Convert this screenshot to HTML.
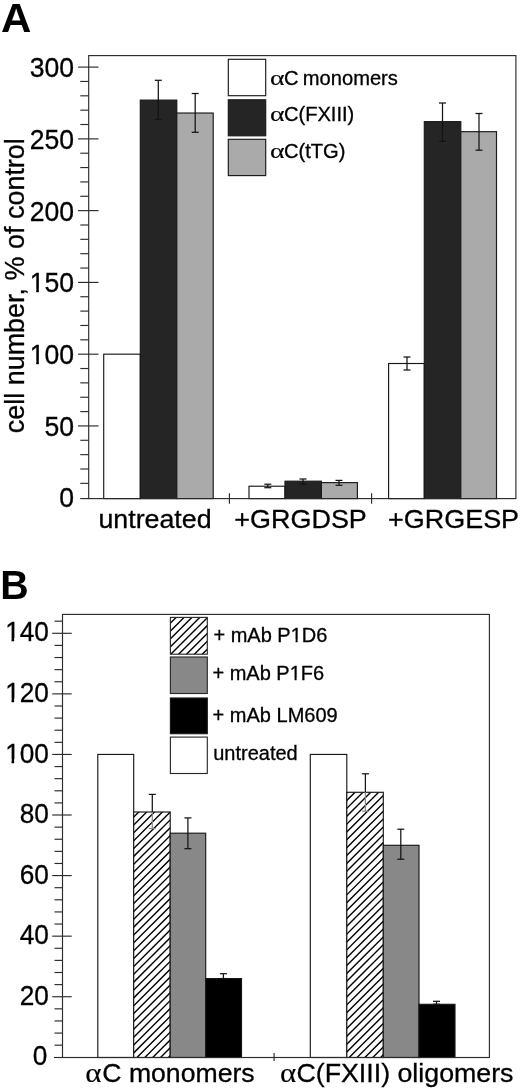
<!DOCTYPE html>
<html lang="en"><head><meta charset="utf-8"><title>Figure</title>
<style>
html,body{margin:0;padding:0;background:#fff;}
body{width:520px;height:1090px;overflow:hidden;}
svg{display:block;font-family:"Liberation Sans",sans-serif;fill:#000;}
</style></head><body>
<svg width="520" height="1090" viewBox="0 0 520 1090">
<rect width="520" height="1090" fill="#fff" stroke="none"/>
<defs><clipPath id="c1"><rect x="-47.05" y="-26" width="51.05" height="22.6"/><rect x="-38.43" y="-3.6" width="2.65" height="5"/><rect x="-30.03" y="-26" width="34.03" height="30"/></clipPath></defs>
<text transform="translate(0.9,31.9) scale(1.05,1)" font-size="40" text-anchor="start" font-weight="bold" stroke="#000" stroke-width="0" >A</text>
<rect x="103.7" y="354.17" width="36.6" height="144.43" fill="#fff" stroke="#181818" stroke-width="1.15"/>
<rect x="140.3" y="100.11" width="36.5" height="398.49" fill="#252525" stroke="#181818" stroke-width="1.15"/>
<rect x="176.8" y="113.03" width="36.4" height="385.57" fill="#aaaaaa" stroke="#181818" stroke-width="1.15"/>
<rect x="249" y="486.22" width="36" height="12.38" fill="#fff" stroke="#181818" stroke-width="1.15"/>
<rect x="285" y="481.19" width="36.4" height="17.41" fill="#252525" stroke="#181818" stroke-width="1.15"/>
<rect x="321.4" y="482.63" width="36" height="15.97" fill="#aaaaaa" stroke="#181818" stroke-width="1.15"/>
<rect x="388.6" y="363.5" width="35.7" height="135.1" fill="#fff" stroke="#181818" stroke-width="1.15"/>
<rect x="424.3" y="121.64" width="36.5" height="376.96" fill="#252525" stroke="#181818" stroke-width="1.15"/>
<rect x="460.8" y="131.69" width="35.7" height="366.91" fill="#aaaaaa" stroke="#181818" stroke-width="1.15"/>
<rect x="88.7" y="55.6" width="427.2" height="443" fill="none" stroke="#2b2b2b" stroke-width="1.15"/>
<line x1="80.2" y1="498.6" x2="88.7" y2="498.6" stroke="#2b2b2b" stroke-width="1.15"/>
<text transform="translate(74.1,506.5) scale(0.985,1)" font-size="27.0" text-anchor="end" font-weight="normal" stroke="#000" stroke-width="0.3" >0</text>
<line x1="80.3" y1="483.35" x2="88.7" y2="483.35" stroke="#2b2b2b" stroke-width="1.15"/>
<line x1="80.3" y1="468.99" x2="88.7" y2="468.99" stroke="#2b2b2b" stroke-width="1.15"/>
<line x1="80.3" y1="454.64" x2="88.7" y2="454.64" stroke="#2b2b2b" stroke-width="1.15"/>
<line x1="80.3" y1="440.29" x2="88.7" y2="440.29" stroke="#2b2b2b" stroke-width="1.15"/>
<line x1="78" y1="425.93" x2="98.5" y2="425.93" stroke="#2b2b2b" stroke-width="1.15"/>
<text transform="translate(74.1,435.83) scale(0.985,1)" font-size="27.0" text-anchor="end" font-weight="normal" stroke="#000" stroke-width="0.3" >50</text>
<line x1="80.3" y1="411.58" x2="88.7" y2="411.58" stroke="#2b2b2b" stroke-width="1.15"/>
<line x1="80.3" y1="397.23" x2="88.7" y2="397.23" stroke="#2b2b2b" stroke-width="1.15"/>
<line x1="80.3" y1="382.87" x2="88.7" y2="382.87" stroke="#2b2b2b" stroke-width="1.15"/>
<line x1="80.3" y1="368.52" x2="88.7" y2="368.52" stroke="#2b2b2b" stroke-width="1.15"/>
<line x1="78" y1="354.17" x2="98.5" y2="354.17" stroke="#2b2b2b" stroke-width="1.15"/>
<text transform="translate(74.1,364.07) scale(0.985,1)" font-size="27.0" text-anchor="end" font-weight="normal" stroke="#000" stroke-width="0.3" clip-path="url(#c1)">100</text>
<line x1="80.3" y1="339.81" x2="88.7" y2="339.81" stroke="#2b2b2b" stroke-width="1.15"/>
<line x1="80.3" y1="325.46" x2="88.7" y2="325.46" stroke="#2b2b2b" stroke-width="1.15"/>
<line x1="80.3" y1="311.11" x2="88.7" y2="311.11" stroke="#2b2b2b" stroke-width="1.15"/>
<line x1="80.3" y1="296.75" x2="88.7" y2="296.75" stroke="#2b2b2b" stroke-width="1.15"/>
<line x1="78" y1="282.4" x2="98.5" y2="282.4" stroke="#2b2b2b" stroke-width="1.15"/>
<text transform="translate(74.1,292.3) scale(0.985,1)" font-size="27.0" text-anchor="end" font-weight="normal" stroke="#000" stroke-width="0.3" clip-path="url(#c1)">150</text>
<line x1="80.3" y1="268.05" x2="88.7" y2="268.05" stroke="#2b2b2b" stroke-width="1.15"/>
<line x1="80.3" y1="253.69" x2="88.7" y2="253.69" stroke="#2b2b2b" stroke-width="1.15"/>
<line x1="80.3" y1="239.34" x2="88.7" y2="239.34" stroke="#2b2b2b" stroke-width="1.15"/>
<line x1="80.3" y1="224.99" x2="88.7" y2="224.99" stroke="#2b2b2b" stroke-width="1.15"/>
<line x1="78" y1="210.63" x2="98.5" y2="210.63" stroke="#2b2b2b" stroke-width="1.15"/>
<text transform="translate(74.1,220.53) scale(0.985,1)" font-size="27.0" text-anchor="end" font-weight="normal" stroke="#000" stroke-width="0.3" >200</text>
<line x1="80.3" y1="196.28" x2="88.7" y2="196.28" stroke="#2b2b2b" stroke-width="1.15"/>
<line x1="80.3" y1="181.93" x2="88.7" y2="181.93" stroke="#2b2b2b" stroke-width="1.15"/>
<line x1="80.3" y1="167.57" x2="88.7" y2="167.57" stroke="#2b2b2b" stroke-width="1.15"/>
<line x1="80.3" y1="153.22" x2="88.7" y2="153.22" stroke="#2b2b2b" stroke-width="1.15"/>
<line x1="78" y1="138.87" x2="98.5" y2="138.87" stroke="#2b2b2b" stroke-width="1.15"/>
<text transform="translate(74.1,148.77) scale(0.985,1)" font-size="27.0" text-anchor="end" font-weight="normal" stroke="#000" stroke-width="0.3" >250</text>
<line x1="80.3" y1="124.51" x2="88.7" y2="124.51" stroke="#2b2b2b" stroke-width="1.15"/>
<line x1="80.3" y1="110.16" x2="88.7" y2="110.16" stroke="#2b2b2b" stroke-width="1.15"/>
<line x1="80.3" y1="95.81" x2="88.7" y2="95.81" stroke="#2b2b2b" stroke-width="1.15"/>
<line x1="80.3" y1="81.45" x2="88.7" y2="81.45" stroke="#2b2b2b" stroke-width="1.15"/>
<line x1="78" y1="67.1" x2="98.5" y2="67.1" stroke="#2b2b2b" stroke-width="1.15"/>
<text transform="translate(74.1,77) scale(0.985,1)" font-size="27.0" text-anchor="end" font-weight="normal" stroke="#000" stroke-width="0.3" >300</text>
<line x1="229.4" y1="493.3" x2="229.4" y2="503.7" stroke="#2b2b2b" stroke-width="1.15"/>
<line x1="371.6" y1="493.3" x2="371.6" y2="503.7" stroke="#2b2b2b" stroke-width="1.15"/>
<line x1="158.3" y1="80.3" x2="158.3" y2="119.4" stroke="#141414" stroke-width="1.25"/>
<line x1="154.8" y1="80.3" x2="161.8" y2="80.3" stroke="#141414" stroke-width="1.25"/>
<line x1="154.8" y1="119.4" x2="161.8" y2="119.4" stroke="#141414" stroke-width="1.25"/>
<line x1="195.2" y1="93.5" x2="195.2" y2="132.3" stroke="#141414" stroke-width="1.25"/>
<line x1="191.7" y1="93.5" x2="198.7" y2="93.5" stroke="#141414" stroke-width="1.25"/>
<line x1="191.7" y1="132.3" x2="198.7" y2="132.3" stroke="#141414" stroke-width="1.25"/>
<line x1="267.8" y1="484.2" x2="267.8" y2="487.7" stroke="#141414" stroke-width="1.25"/>
<line x1="264.3" y1="484.2" x2="271.3" y2="484.2" stroke="#141414" stroke-width="1.25"/>
<line x1="264.3" y1="487.7" x2="271.3" y2="487.7" stroke="#141414" stroke-width="1.25"/>
<line x1="303" y1="479" x2="303" y2="484.2" stroke="#141414" stroke-width="1.25"/>
<line x1="299.5" y1="479" x2="306.5" y2="479" stroke="#141414" stroke-width="1.25"/>
<line x1="299.5" y1="484.2" x2="306.5" y2="484.2" stroke="#141414" stroke-width="1.25"/>
<line x1="339" y1="480.4" x2="339" y2="485.3" stroke="#141414" stroke-width="1.25"/>
<line x1="335.5" y1="480.4" x2="342.5" y2="480.4" stroke="#141414" stroke-width="1.25"/>
<line x1="335.5" y1="485.3" x2="342.5" y2="485.3" stroke="#141414" stroke-width="1.25"/>
<line x1="407" y1="357" x2="407" y2="370" stroke="#141414" stroke-width="1.25"/>
<line x1="403.5" y1="357" x2="410.5" y2="357" stroke="#141414" stroke-width="1.25"/>
<line x1="403.5" y1="370" x2="410.5" y2="370" stroke="#141414" stroke-width="1.25"/>
<line x1="442.5" y1="103" x2="442.5" y2="141.3" stroke="#141414" stroke-width="1.25"/>
<line x1="439" y1="103" x2="446" y2="103" stroke="#141414" stroke-width="1.25"/>
<line x1="439" y1="141.3" x2="446" y2="141.3" stroke="#141414" stroke-width="1.25"/>
<line x1="479" y1="113.5" x2="479" y2="150.2" stroke="#141414" stroke-width="1.25"/>
<line x1="475.5" y1="113.5" x2="482.5" y2="113.5" stroke="#141414" stroke-width="1.25"/>
<line x1="475.5" y1="150.2" x2="482.5" y2="150.2" stroke="#141414" stroke-width="1.25"/>
<text transform="translate(155,527.7) scale(1.03,1)" font-size="26" text-anchor="middle" font-weight="normal" stroke="#000" stroke-width="0.3" >untreated</text>
<text transform="translate(300.6,527.7) scale(1.036,1)" font-size="26" text-anchor="middle" font-weight="normal" stroke="#000" stroke-width="0.3" >+GRGDSP</text>
<text transform="translate(453.6,527.7) scale(1.036,1)" font-size="26" text-anchor="middle" font-weight="normal" stroke="#000" stroke-width="0.3" >+GRGESP</text>
<text transform="translate(23.5,433.2) rotate(-90) scale(0.998,1)" font-size="27" stroke="#000" stroke-width="0.3">cell number, % of control</text>
<rect x="228.3" y="59.3" width="37.4" height="36.4" fill="#fff" stroke="#181818" stroke-width="1.15"/>
<rect x="228.3" y="99.8" width="37.4" height="36" fill="#252525" stroke="#181818" stroke-width="1.15"/>
<rect x="228.3" y="139.3" width="37.4" height="36.3" fill="#aaaaaa" stroke="#181818" stroke-width="1.15"/>
<text transform="translate(270.1,85.3) scale(1.3,1)" font-family="'Liberation Serif', 'DejaVu Serif', serif" font-size="21.4" stroke="#000" stroke-width="0.15">α</text>
<text transform="translate(284.1,85.3) scale(1.022,1)" font-size="19.7" text-anchor="start" font-weight="normal" stroke="#000" stroke-width="0.3" >C<tspan dx="-1.4"> </tspan>monomers</text>
<text transform="translate(270.1,120.6) scale(1.3,1)" font-family="'Liberation Serif', 'DejaVu Serif', serif" font-size="21.4" stroke="#000" stroke-width="0.15">α</text>
<text transform="translate(283.9,120.6) scale(1.022,1)" font-size="19.7" text-anchor="start" font-weight="normal" stroke="#000" stroke-width="0.3" >C(FXIII)</text>
<text transform="translate(270.1,158) scale(1.3,1)" font-family="'Liberation Serif', 'DejaVu Serif', serif" font-size="21.4" stroke="#000" stroke-width="0.15">α</text>
<text transform="translate(283.9,158) scale(1.022,1)" font-size="19.7" text-anchor="start" font-weight="normal" stroke="#000" stroke-width="0.3" >C(tTG)</text>
<text transform="translate(0.3,598.8) scale(0.985,1)" font-size="40" text-anchor="start" font-weight="bold" stroke="#000" stroke-width="0" >B</text>
<rect x="97.8" y="754.44" width="35.9" height="303.06" fill="#fff" stroke="#181818" stroke-width="1.15"/>
<clipPath id="hc1"><rect x="133.7" y="811.99" width="36.5" height="245.51"/></clipPath>
<rect x="133.7" y="811.99" width="36.5" height="245.51" fill="#fff"/>
<g clip-path="url(#hc1)" stroke="#000" stroke-width="1.4">
<line x1="132.7" y1="802.38" x2="171.2" y2="763.88"/>
<line x1="132.7" y1="810.24" x2="171.2" y2="771.74"/>
<line x1="132.7" y1="818.1" x2="171.2" y2="779.6"/>
<line x1="132.7" y1="825.96" x2="171.2" y2="787.46"/>
<line x1="132.7" y1="833.82" x2="171.2" y2="795.32"/>
<line x1="132.7" y1="841.68" x2="171.2" y2="803.18"/>
<line x1="132.7" y1="849.54" x2="171.2" y2="811.04"/>
<line x1="132.7" y1="857.4" x2="171.2" y2="818.9"/>
<line x1="132.7" y1="865.26" x2="171.2" y2="826.76"/>
<line x1="132.7" y1="873.12" x2="171.2" y2="834.62"/>
<line x1="132.7" y1="880.98" x2="171.2" y2="842.48"/>
<line x1="132.7" y1="888.84" x2="171.2" y2="850.34"/>
<line x1="132.7" y1="896.7" x2="171.2" y2="858.2"/>
<line x1="132.7" y1="904.56" x2="171.2" y2="866.06"/>
<line x1="132.7" y1="912.42" x2="171.2" y2="873.92"/>
<line x1="132.7" y1="920.28" x2="171.2" y2="881.78"/>
<line x1="132.7" y1="928.14" x2="171.2" y2="889.64"/>
<line x1="132.7" y1="936" x2="171.2" y2="897.5"/>
<line x1="132.7" y1="943.86" x2="171.2" y2="905.36"/>
<line x1="132.7" y1="951.72" x2="171.2" y2="913.22"/>
<line x1="132.7" y1="959.58" x2="171.2" y2="921.08"/>
<line x1="132.7" y1="967.44" x2="171.2" y2="928.94"/>
<line x1="132.7" y1="975.3" x2="171.2" y2="936.8"/>
<line x1="132.7" y1="983.16" x2="171.2" y2="944.66"/>
<line x1="132.7" y1="991.02" x2="171.2" y2="952.52"/>
<line x1="132.7" y1="998.88" x2="171.2" y2="960.38"/>
<line x1="132.7" y1="1006.74" x2="171.2" y2="968.24"/>
<line x1="132.7" y1="1014.6" x2="171.2" y2="976.1"/>
<line x1="132.7" y1="1022.46" x2="171.2" y2="983.96"/>
<line x1="132.7" y1="1030.32" x2="171.2" y2="991.82"/>
<line x1="132.7" y1="1038.18" x2="171.2" y2="999.68"/>
<line x1="132.7" y1="1046.04" x2="171.2" y2="1007.54"/>
<line x1="132.7" y1="1053.9" x2="171.2" y2="1015.4"/>
<line x1="132.7" y1="1061.76" x2="171.2" y2="1023.26"/>
<line x1="132.7" y1="1069.62" x2="171.2" y2="1031.12"/>
<line x1="132.7" y1="1077.48" x2="171.2" y2="1038.98"/>
<line x1="132.7" y1="1085.34" x2="171.2" y2="1046.84"/>
<line x1="132.7" y1="1093.2" x2="171.2" y2="1054.7"/>
<line x1="132.7" y1="1101.06" x2="171.2" y2="1062.56"/>
<line x1="132.7" y1="1108.92" x2="171.2" y2="1070.42"/>
</g>
<rect x="133.7" y="811.99" width="36.5" height="245.51" fill="none" stroke="#181818" stroke-width="1.15"/>
<rect x="170.2" y="833.19" width="35.5" height="224.31" fill="#888888" stroke="#181818" stroke-width="1.15"/>
<rect x="205.7" y="978.56" width="35.8" height="78.94" fill="#000" stroke="#181818" stroke-width="1.15"/>
<rect x="310.3" y="754.44" width="36.5" height="303.06" fill="#fff" stroke="#181818" stroke-width="1.15"/>
<clipPath id="hc2"><rect x="346.8" y="792.3" width="36.5" height="265.2"/></clipPath>
<rect x="346.8" y="792.3" width="36.5" height="265.2" fill="#fff"/>
<g clip-path="url(#hc2)" stroke="#000" stroke-width="1.4">
<line x1="345.8" y1="777.92" x2="384.3" y2="739.42"/>
<line x1="345.8" y1="785.78" x2="384.3" y2="747.28"/>
<line x1="345.8" y1="793.64" x2="384.3" y2="755.14"/>
<line x1="345.8" y1="801.5" x2="384.3" y2="763"/>
<line x1="345.8" y1="809.36" x2="384.3" y2="770.86"/>
<line x1="345.8" y1="817.22" x2="384.3" y2="778.72"/>
<line x1="345.8" y1="825.08" x2="384.3" y2="786.58"/>
<line x1="345.8" y1="832.94" x2="384.3" y2="794.44"/>
<line x1="345.8" y1="840.8" x2="384.3" y2="802.3"/>
<line x1="345.8" y1="848.66" x2="384.3" y2="810.16"/>
<line x1="345.8" y1="856.52" x2="384.3" y2="818.02"/>
<line x1="345.8" y1="864.38" x2="384.3" y2="825.88"/>
<line x1="345.8" y1="872.24" x2="384.3" y2="833.74"/>
<line x1="345.8" y1="880.1" x2="384.3" y2="841.6"/>
<line x1="345.8" y1="887.96" x2="384.3" y2="849.46"/>
<line x1="345.8" y1="895.82" x2="384.3" y2="857.32"/>
<line x1="345.8" y1="903.68" x2="384.3" y2="865.18"/>
<line x1="345.8" y1="911.54" x2="384.3" y2="873.04"/>
<line x1="345.8" y1="919.4" x2="384.3" y2="880.9"/>
<line x1="345.8" y1="927.26" x2="384.3" y2="888.76"/>
<line x1="345.8" y1="935.12" x2="384.3" y2="896.62"/>
<line x1="345.8" y1="942.98" x2="384.3" y2="904.48"/>
<line x1="345.8" y1="950.84" x2="384.3" y2="912.34"/>
<line x1="345.8" y1="958.7" x2="384.3" y2="920.2"/>
<line x1="345.8" y1="966.56" x2="384.3" y2="928.06"/>
<line x1="345.8" y1="974.42" x2="384.3" y2="935.92"/>
<line x1="345.8" y1="982.28" x2="384.3" y2="943.78"/>
<line x1="345.8" y1="990.14" x2="384.3" y2="951.64"/>
<line x1="345.8" y1="998" x2="384.3" y2="959.5"/>
<line x1="345.8" y1="1005.86" x2="384.3" y2="967.36"/>
<line x1="345.8" y1="1013.72" x2="384.3" y2="975.22"/>
<line x1="345.8" y1="1021.58" x2="384.3" y2="983.08"/>
<line x1="345.8" y1="1029.44" x2="384.3" y2="990.94"/>
<line x1="345.8" y1="1037.3" x2="384.3" y2="998.8"/>
<line x1="345.8" y1="1045.16" x2="384.3" y2="1006.66"/>
<line x1="345.8" y1="1053.02" x2="384.3" y2="1014.52"/>
<line x1="345.8" y1="1060.88" x2="384.3" y2="1022.38"/>
<line x1="345.8" y1="1068.74" x2="384.3" y2="1030.24"/>
<line x1="345.8" y1="1076.6" x2="384.3" y2="1038.1"/>
<line x1="345.8" y1="1084.46" x2="384.3" y2="1045.96"/>
<line x1="345.8" y1="1092.32" x2="384.3" y2="1053.82"/>
<line x1="345.8" y1="1100.18" x2="384.3" y2="1061.68"/>
<line x1="345.8" y1="1108.04" x2="384.3" y2="1069.54"/>
</g>
<rect x="346.8" y="792.3" width="36.5" height="265.2" fill="none" stroke="#181818" stroke-width="1.15"/>
<rect x="383.3" y="845.3" width="35.7" height="212.2" fill="#888888" stroke="#181818" stroke-width="1.15"/>
<rect x="419" y="1004.3" width="36" height="53.2" fill="#000" stroke="#181818" stroke-width="1.15"/>
<rect x="62.5" y="614.4" width="426.9" height="443.1" fill="none" stroke="#2b2b2b" stroke-width="1.15"/>
<line x1="54" y1="1057.5" x2="62.5" y2="1057.5" stroke="#2b2b2b" stroke-width="1.15"/>
<text transform="translate(47.3,1065.4) scale(0.972,1)" font-size="27.0" text-anchor="end" font-weight="normal" stroke="#000" stroke-width="0.3" >0</text>
<line x1="54.5" y1="1045.19" x2="62.5" y2="1045.19" stroke="#2b2b2b" stroke-width="1.15"/>
<line x1="54.5" y1="1033.07" x2="62.5" y2="1033.07" stroke="#2b2b2b" stroke-width="1.15"/>
<line x1="54.5" y1="1020.96" x2="62.5" y2="1020.96" stroke="#2b2b2b" stroke-width="1.15"/>
<line x1="54.5" y1="1008.84" x2="62.5" y2="1008.84" stroke="#2b2b2b" stroke-width="1.15"/>
<line x1="52.2" y1="996.73" x2="71.7" y2="996.73" stroke="#2b2b2b" stroke-width="1.15"/>
<text transform="translate(48.9,1004.83) scale(0.972,1)" font-size="27.0" text-anchor="end" font-weight="normal" stroke="#000" stroke-width="0.3" >20</text>
<line x1="54.5" y1="984.61" x2="62.5" y2="984.61" stroke="#2b2b2b" stroke-width="1.15"/>
<line x1="54.5" y1="972.5" x2="62.5" y2="972.5" stroke="#2b2b2b" stroke-width="1.15"/>
<line x1="54.5" y1="960.39" x2="62.5" y2="960.39" stroke="#2b2b2b" stroke-width="1.15"/>
<line x1="54.5" y1="948.27" x2="62.5" y2="948.27" stroke="#2b2b2b" stroke-width="1.15"/>
<line x1="52.2" y1="936.16" x2="71.7" y2="936.16" stroke="#2b2b2b" stroke-width="1.15"/>
<text transform="translate(48.9,944.26) scale(0.972,1)" font-size="27.0" text-anchor="end" font-weight="normal" stroke="#000" stroke-width="0.3" >40</text>
<line x1="54.5" y1="924.04" x2="62.5" y2="924.04" stroke="#2b2b2b" stroke-width="1.15"/>
<line x1="54.5" y1="911.93" x2="62.5" y2="911.93" stroke="#2b2b2b" stroke-width="1.15"/>
<line x1="54.5" y1="899.81" x2="62.5" y2="899.81" stroke="#2b2b2b" stroke-width="1.15"/>
<line x1="54.5" y1="887.7" x2="62.5" y2="887.7" stroke="#2b2b2b" stroke-width="1.15"/>
<line x1="52.2" y1="875.59" x2="71.7" y2="875.59" stroke="#2b2b2b" stroke-width="1.15"/>
<text transform="translate(48.9,883.69) scale(0.972,1)" font-size="27.0" text-anchor="end" font-weight="normal" stroke="#000" stroke-width="0.3" >60</text>
<line x1="54.5" y1="863.47" x2="62.5" y2="863.47" stroke="#2b2b2b" stroke-width="1.15"/>
<line x1="54.5" y1="851.36" x2="62.5" y2="851.36" stroke="#2b2b2b" stroke-width="1.15"/>
<line x1="54.5" y1="839.24" x2="62.5" y2="839.24" stroke="#2b2b2b" stroke-width="1.15"/>
<line x1="54.5" y1="827.13" x2="62.5" y2="827.13" stroke="#2b2b2b" stroke-width="1.15"/>
<line x1="52.2" y1="815.01" x2="71.7" y2="815.01" stroke="#2b2b2b" stroke-width="1.15"/>
<text transform="translate(48.9,823.11) scale(0.972,1)" font-size="27.0" text-anchor="end" font-weight="normal" stroke="#000" stroke-width="0.3" >80</text>
<line x1="54.5" y1="802.9" x2="62.5" y2="802.9" stroke="#2b2b2b" stroke-width="1.15"/>
<line x1="54.5" y1="790.79" x2="62.5" y2="790.79" stroke="#2b2b2b" stroke-width="1.15"/>
<line x1="54.5" y1="778.67" x2="62.5" y2="778.67" stroke="#2b2b2b" stroke-width="1.15"/>
<line x1="54.5" y1="766.56" x2="62.5" y2="766.56" stroke="#2b2b2b" stroke-width="1.15"/>
<line x1="52.2" y1="754.44" x2="71.7" y2="754.44" stroke="#2b2b2b" stroke-width="1.15"/>
<text transform="translate(48.9,762.54) scale(0.972,1)" font-size="27.0" text-anchor="end" font-weight="normal" stroke="#000" stroke-width="0.3" clip-path="url(#c1)">100</text>
<line x1="54.5" y1="742.33" x2="62.5" y2="742.33" stroke="#2b2b2b" stroke-width="1.15"/>
<line x1="54.5" y1="730.21" x2="62.5" y2="730.21" stroke="#2b2b2b" stroke-width="1.15"/>
<line x1="54.5" y1="718.1" x2="62.5" y2="718.1" stroke="#2b2b2b" stroke-width="1.15"/>
<line x1="54.5" y1="705.99" x2="62.5" y2="705.99" stroke="#2b2b2b" stroke-width="1.15"/>
<line x1="52.2" y1="693.87" x2="71.7" y2="693.87" stroke="#2b2b2b" stroke-width="1.15"/>
<text transform="translate(48.9,701.97) scale(0.972,1)" font-size="27.0" text-anchor="end" font-weight="normal" stroke="#000" stroke-width="0.3" clip-path="url(#c1)">120</text>
<line x1="54.5" y1="681.76" x2="62.5" y2="681.76" stroke="#2b2b2b" stroke-width="1.15"/>
<line x1="54.5" y1="669.64" x2="62.5" y2="669.64" stroke="#2b2b2b" stroke-width="1.15"/>
<line x1="54.5" y1="657.53" x2="62.5" y2="657.53" stroke="#2b2b2b" stroke-width="1.15"/>
<line x1="54.5" y1="645.41" x2="62.5" y2="645.41" stroke="#2b2b2b" stroke-width="1.15"/>
<line x1="52.2" y1="633.3" x2="71.7" y2="633.3" stroke="#2b2b2b" stroke-width="1.15"/>
<text transform="translate(48.9,641.4) scale(0.972,1)" font-size="27.0" text-anchor="end" font-weight="normal" stroke="#000" stroke-width="0.3" clip-path="url(#c1)">140</text>
<line x1="54.5" y1="621.19" x2="62.5" y2="621.19" stroke="#2b2b2b" stroke-width="1.15"/>
<line x1="274.1" y1="1053" x2="274.1" y2="1061" stroke="#2b2b2b" stroke-width="1.15"/>
<line x1="152.3" y1="794.4" x2="152.3" y2="811.99" stroke="#141414" stroke-width="1.25"/>
<line x1="148.8" y1="794.4" x2="155.8" y2="794.4" stroke="#141414" stroke-width="1.25"/>
<line x1="152.3" y1="811.99" x2="152.3" y2="828.5" stroke="#8a8a8a" stroke-width="1.25"/>
<line x1="148.8" y1="828.5" x2="155.8" y2="828.5" stroke="#8a8a8a" stroke-width="1.25"/>
<line x1="187.9" y1="817.9" x2="187.9" y2="848.7" stroke="#141414" stroke-width="1.25"/>
<line x1="184.4" y1="817.9" x2="191.4" y2="817.9" stroke="#141414" stroke-width="1.25"/>
<line x1="184.4" y1="848.7" x2="191.4" y2="848.7" stroke="#141414" stroke-width="1.25"/>
<line x1="223.4" y1="973.7" x2="223.4" y2="978.56" stroke="#141414" stroke-width="1.25"/>
<line x1="219.9" y1="973.7" x2="226.9" y2="973.7" stroke="#141414" stroke-width="1.25"/>
<line x1="219.9" y1="978.56" x2="226.9" y2="978.56" stroke="#141414" stroke-width="1.25"/>
<line x1="365.4" y1="773.8" x2="365.4" y2="792.3" stroke="#141414" stroke-width="1.25"/>
<line x1="361.9" y1="773.8" x2="368.9" y2="773.8" stroke="#141414" stroke-width="1.25"/>
<line x1="365.4" y1="792.3" x2="365.4" y2="811.2" stroke="#8a8a8a" stroke-width="1.25"/>
<line x1="361.9" y1="811.2" x2="368.9" y2="811.2" stroke="#8a8a8a" stroke-width="1.25"/>
<line x1="400.8" y1="829.2" x2="400.8" y2="859.2" stroke="#141414" stroke-width="1.25"/>
<line x1="397.3" y1="829.2" x2="404.3" y2="829.2" stroke="#141414" stroke-width="1.25"/>
<line x1="397.3" y1="859.2" x2="404.3" y2="859.2" stroke="#141414" stroke-width="1.25"/>
<line x1="436.5" y1="1001.3" x2="436.5" y2="1004.3" stroke="#141414" stroke-width="1.25"/>
<line x1="433" y1="1001.3" x2="440" y2="1001.3" stroke="#141414" stroke-width="1.25"/>
<line x1="433" y1="1004.3" x2="440" y2="1004.3" stroke="#141414" stroke-width="1.25"/>
<text transform="translate(85.3,1082) scale(1.15,1)" font-family="'Liberation Serif', 'DejaVu Serif', serif" font-size="27" stroke="#000" stroke-width="0.15">α</text>
<text transform="translate(102.3,1082) scale(1.024,1)" font-size="26" text-anchor="start" font-weight="normal" stroke="#000" stroke-width="0.3" >C monomers</text>
<text transform="translate(280,1082) scale(1.15,1)" font-family="'Liberation Serif', 'DejaVu Serif', serif" font-size="27" stroke="#000" stroke-width="0.15">α</text>
<text transform="translate(296.4,1082) scale(1.03,1)" font-size="26" text-anchor="start" font-weight="normal" stroke="#000" stroke-width="0.3" >C(FXIII) oligomers</text>
<clipPath id="hc3"><rect x="170.4" y="617.4" width="36.9" height="36.8"/></clipPath>
<rect x="170.4" y="617.4" width="36.9" height="36.8" fill="#fff"/>
<g clip-path="url(#hc3)" stroke="#000" stroke-width="1.4">
<line x1="169.4" y1="608.48" x2="208.3" y2="569.58"/>
<line x1="169.4" y1="616.34" x2="208.3" y2="577.44"/>
<line x1="169.4" y1="624.2" x2="208.3" y2="585.3"/>
<line x1="169.4" y1="632.06" x2="208.3" y2="593.16"/>
<line x1="169.4" y1="639.92" x2="208.3" y2="601.02"/>
<line x1="169.4" y1="647.78" x2="208.3" y2="608.88"/>
<line x1="169.4" y1="655.64" x2="208.3" y2="616.74"/>
<line x1="169.4" y1="663.5" x2="208.3" y2="624.6"/>
<line x1="169.4" y1="671.36" x2="208.3" y2="632.46"/>
<line x1="169.4" y1="679.22" x2="208.3" y2="640.32"/>
<line x1="169.4" y1="687.08" x2="208.3" y2="648.18"/>
<line x1="169.4" y1="694.94" x2="208.3" y2="656.04"/>
<line x1="169.4" y1="702.8" x2="208.3" y2="663.9"/>
</g>
<rect x="170.4" y="617.4" width="36.9" height="36.8" fill="none" stroke="#2a2a2a" stroke-width="1.15"/>
<rect x="170.4" y="657" width="36.9" height="36.5" fill="#888888" stroke="#2a2a2a" stroke-width="1.15"/>
<rect x="170.4" y="698" width="36.9" height="35.7" fill="#000" stroke="#181818" stroke-width="1.15"/>
<rect x="170.4" y="737.1" width="36.9" height="36.4" fill="#fff" stroke="#2a2a2a" stroke-width="1.15"/>
<clipPath id="c2"><rect x="-3" y="-19.7" width="79.1" height="27.58"/><rect x="76.1" y="-19.7" width="10.96" height="17.22"/><rect x="80.92" y="-2.68" width="1.93" height="3.68"/><rect x="87.05" y="-19.7" width="200" height="27.58"/></clipPath>
<text transform="translate(213.4,641.9) scale(1.016,1)" font-size="19.7" text-anchor="start" font-weight="normal" stroke="#000" stroke-width="0.3" clip-path="url(#c2)">+ mAb P1D6</text>
<text transform="translate(212.4,680.4) scale(1.016,1)" font-size="19.7" text-anchor="start" font-weight="normal" stroke="#000" stroke-width="0.3" clip-path="url(#c2)">+ mAb P1F6</text>
<text transform="translate(212.6,721.9) scale(1.016,1)" font-size="19.7" text-anchor="start" font-weight="normal" stroke="#000" stroke-width="0.3" >+ mAb LM609</text>
<text transform="translate(213.2,759.6) scale(1.016,1)" font-size="19.7" text-anchor="start" font-weight="normal" stroke="#000" stroke-width="0.3" >untreated</text>
</svg>
</body></html>
